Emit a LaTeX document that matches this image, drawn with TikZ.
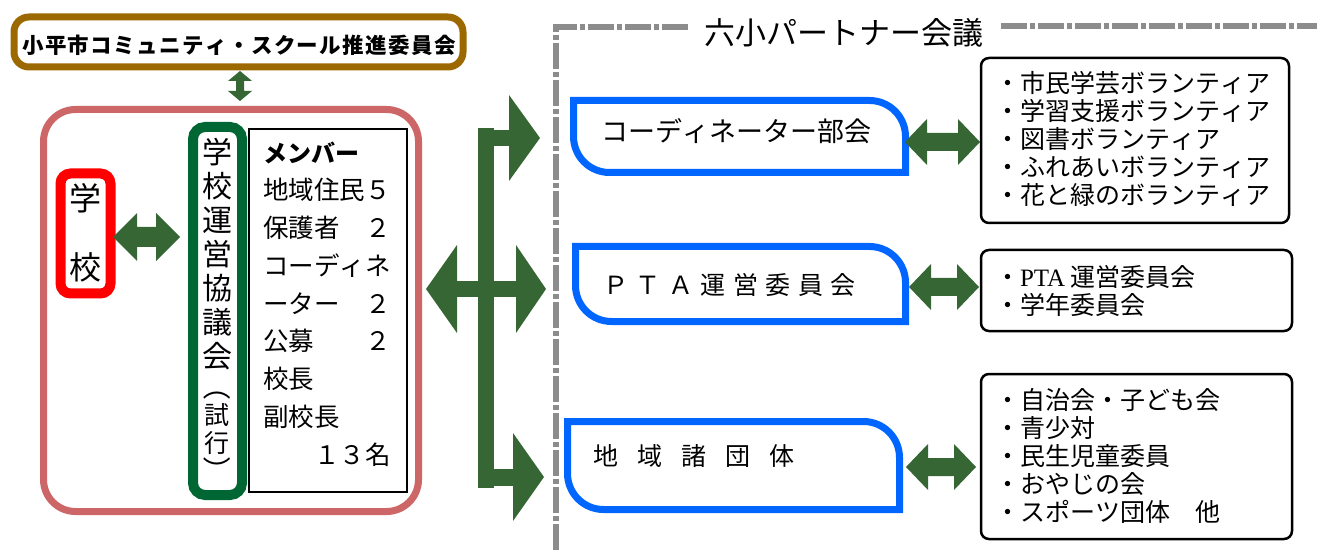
\documentclass[tikz,border=0pt]{standalone}
\usepackage{fontspec}
\setmainfont{Noto Sans CJK JP}[Kerning=Off]
\newfontfamily\serifpta{Liberation Serif}
\definecolor{cbrown}{RGB}{156,104,0}
\definecolor{cpink}{RGB}{205,102,102}
\definecolor{cred}{RGB}{255,0,0}
\definecolor{cgreen}{RGB}{0,102,51}
\definecolor{agreen}{RGB}{53,102,51}
\definecolor{cblue}{RGB}{0,102,255}
\definecolor{dgray}{RGB}{140,140,140}
\newcommand\hdarrow[6]{\fill[agreen] (#1,#3) -- ({#1+#5},{#3-#4}) -- ({#1+#5},{#3-#6}) -- ({#2-#5},{#3-#6}) -- ({#2-#5},{#3-#4}) -- (#2,#3) -- ({#2-#5},{#3+#4}) -- ({#2-#5},{#3+#6}) -- ({#1+#5},{#3+#6}) -- ({#1+#5},{#3+#4}) -- cycle;}
\newcommand\vdarrow[6]{\fill[agreen] (#1,#2) -- ({#1+#4},{#2+#5}) -- ({#1+#6},{#2+#5}) -- ({#1+#6},{#3-#5}) -- ({#1+#4},{#3-#5}) -- (#1,#3) -- ({#1-#4},{#3-#5}) -- ({#1-#6},{#3-#5}) -- ({#1-#6},{#2+#5}) -- ({#1-#4},{#2+#5}) -- cycle;}
\newcommand\tabbox[4]{\draw[cblue,line width=7pt] (#1,#2) -- ({#3-36},#2) arc(270:360:36) -- (#3,#4) -- ({#1+36},#4) arc(90:180:36) -- cycle;}
\begin{document}
\begin{tikzpicture}[x=1pt,y=-1pt,
  frame/.style={inner sep=0pt,outer sep=0pt},
  lbl/.style={inner sep=0pt,outer sep=0pt},
  gdash/.style={draw=dgray,line width=5.5pt,dash pattern=on 26pt off 3pt on 5pt off 3pt},
  listbox/.style={frame,draw=black,line width=2.5pt,rounded corners=8pt},
  listtxt/.style={lbl,anchor=west,align=left,font=\fontsize{25}{28}\selectfont}
]
\useasboundingbox[fill=white] (0,0) rectangle (1317,553);

% top committee
\node[frame,draw=cbrown,line width=7pt,rounded corners=15pt,minimum width=449pt,minimum height=50pt] (cs) at (238.5,42) {};
\node[lbl,font=\fontsize{21.5}{21.5}\selectfont\bfseries\addfontfeatures{LetterSpace=6.5}] (cst) at (239,45) {小平市コミュニティ・スクール推進委員会};
\vdarrow{240}{71}{101}{12}{10}{4}

% school side
\node[frame,draw=cpink,line width=7pt,rounded corners=32pt,minimum width=375pt,minimum height=402pt] (side) at (231,310.5) {};
\node[frame,draw=cred,line width=10pt,rounded corners=10pt,minimum width=50pt,minimum height=120pt] (school) at (85.5,233.5) {};
\node[lbl,font=\fontsize{32}{32}\selectfont] (sc1) at (85.5,198) {学};
\node[lbl,font=\fontsize{32}{32}\selectfont] (sc2) at (85.5,267) {校};
\hdarrow{113}{180}{237}{24}{24}{10}

\node[frame,draw=cgreen,line width=10pt,rounded corners=12pt,minimum width=49pt,minimum height=368pt] (council) at (217.5,311) {};
\node[lbl,align=center,font=\fontsize{30}{34}\selectfont] (ct) at (217,254.5) {学\\校\\運\\営\\協\\議\\会};
\node[lbl,rotate=-90,font=\fontsize{28}{28}\selectfont] (po) at (217,386) {（};
\node[lbl,align=center,font=\fontsize{25}{28}\selectfont] (ct2) at (217,429) {試\\行};
\node[lbl,rotate=-90,font=\fontsize{28}{28}\selectfont] (pc) at (217,470) {）};

\node[frame,draw=black,line width=2.5pt,minimum width=158pt,minimum height=363pt] (members) at (328,310.5) {};
\node[lbl,anchor=west,align=left,font=\fontsize{25.5}{37.75}\selectfont] (mt) at (263,304)
 {{\bfseries\fontsize{24}{37.75}\selectfont メンバー}\\地域住民５\\保護者　２\\コーディネ\\ーター　２\\公募　　２\\校長\\副校長\\　　１３名};

% branching block arrows
\fill[agreen] (478,128) rectangle (494,488);
\fill[agreen] (493,130) rectangle (510,146);
\fill[agreen] (509,95) -- (540,138) -- (509,181) -- cycle;
\fill[agreen] (456,281) rectangle (517,297);
\fill[agreen] (426,289) -- (457,245) -- (457,333) -- cycle;
\fill[agreen] (516,245) -- (546,289) -- (516,333) -- cycle;
\fill[agreen] (493,469) rectangle (514,486);
\fill[agreen] (513,433) -- (544,477) -- (513,521) -- cycle;

% partner frame
\draw[gdash] (688,27) -- (556,27) -- (556,553);
\draw[gdash] (1001,26) -- (1317,26);
\node[lbl,font=\fontsize{31}{31}\selectfont] (pt) at (844,33) {六小パートナー会議};

% blue tab boxes
\tabbox{573.5}{100.5}{905.5}{172.5}
\tabbox{575.5}{246.5}{905.5}{321.5}
\tabbox{567.5}{421.5}{899.5}{509.5}
\node[lbl,anchor=west,font=\fontsize{27}{27}\selectfont] (coord) at (601,131) {コーディネーター部会};
\node[lbl,anchor=west,font=\fontsize{25}{25}\selectfont] (pta) at (603,285) {Ｐ\kern7.5ptＴ\kern7.5ptＡ\kern7.5pt運\kern7.5pt営\kern7.5pt委\kern7.5pt員\kern7.5pt会};
\node[lbl,anchor=west,font=\fontsize{25}{25}\selectfont] (local) at (593,456) {地\kern19pt域\kern19pt諸\kern19pt団\kern19pt体};

\hdarrow{905}{980}{142}{23}{22}{9}
\hdarrow{909}{979}{287}{23}{22}{9}
\hdarrow{906}{976}{467}{23}{22}{9}

% lists
\node[listbox,minimum width=308pt,minimum height=165pt] (la) at (1135,140.5) {};
\node[listtxt] (lat) at (995,139) {・市民学芸ボランティア\\・学習支援ボランティア\\・図書ボランティア\\・ふれあいボランティア\\・花と緑のボランティア};
\node[listbox,minimum width=311pt,minimum height=81pt] (lb) at (1136.5,290.5) {};
\node[listtxt] (lbt) at (995,291) {・{\serifpta PTA} 運営委員会\\・学年委員会};
\node[listbox,minimum width=311pt,minimum height=165pt] (lc) at (1136.5,456.5) {};
\node[listtxt] (lct) at (995,456) {・自治会・子ども会\\・青少対\\・民生児童委員\\・おやじの会\\・スポーツ団体　他};
\end{tikzpicture}
\end{document}
